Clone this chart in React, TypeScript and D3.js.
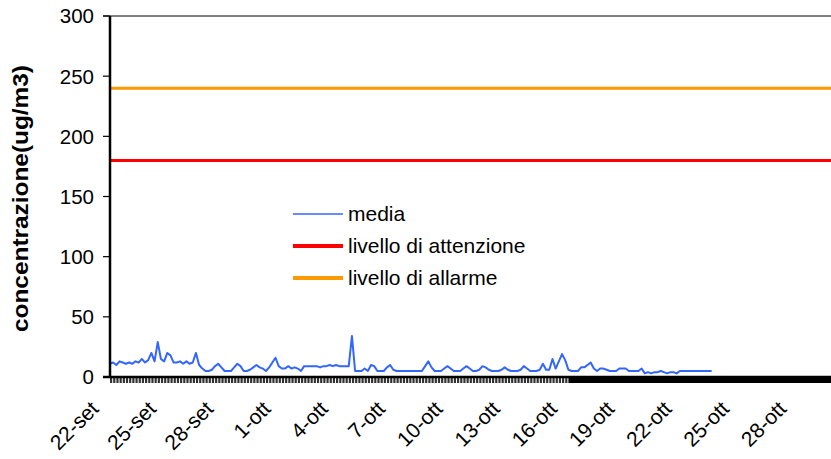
import React from "react";
import * as d3 from "d3";

// ---- data ----
const startDate = new Date(Date.UTC(2000, 8, 22)); // 22-set
const endDate = new Date(Date.UTC(2000, 9, 30)); // axis end
const denseTickFrom = new Date(Date.UTC(2000, 9, 16));
const stepHours = 4;

// media (ug/m3), one value every 4 hours from 22-set 00:00
const media = [
  11, 12, 10, 13, 12, 11, // 22-set
  12, 11, 13, 12, 15, 12, // 23-set
  14, 20, 13, 29, 15, 13, // 24-set
  20, 18, 12, 12, 13, 11, // 25-set
  13, 11, 12, 20, 10, 7, // 26-set
  5, 5, 6, 9, 11, 8, // 27-set
  5, 5, 5, 8, 11, 9, // 28-set
  5, 5, 6, 8, 10, 8, // 29-set
  7, 5, 8, 12, 16, 9, // 30-set
  7, 7, 9, 7, 8, 7, // 1-ott
  5, 9, 9, 9, 9, 9, // 2-ott
  8, 9, 9, 10, 9, 10, // 3-ott
  9, 9, 9, 9, 34, 5, // 4-ott
  5, 5, 7, 5, 10, 9, // 5-ott
  5, 5, 5, 8, 10, 6, // 6-ott
  5, 5, 5, 5, 5, 5, // 7-ott
  5, 5, 5, 9, 13, 8, // 8-ott
  5, 5, 5, 7, 9, 7, // 9-ott
  5, 5, 5, 7, 9, 7, // 10-ott
  5, 5, 6, 9, 8, 6, // 11-ott
  5, 5, 5, 6, 8, 6, // 12-ott
  5, 5, 5, 6, 9, 7, // 13-ott
  5, 5, 5, 6, 11, 6, // 14-ott
  6, 15, 7, 13, 19, 14, // 15-ott
  6, 5, 5, 5, 8, 8, // 16-ott
  10, 12, 7, 5, 7, 7, // 17-ott
  6, 5, 5, 5, 7, 7, // 18-ott
  7, 5, 5, 5, 5, 7, // 19-ott
  3, 4, 3, 4, 4, 5, // 20-ott
  4, 3, 4, 4, 3, 5, // 21-ott
  5, 5, 5, 5, 5, 5, // 22-ott
  5, 5, 5, 5, // 23-ott
];

const livelloAttenzione = 180;
const livelloAllarme = 240;

const yTicks = [0, 50, 100, 150, 200, 250, 300];
const xTickLabels = [
  "22-set", "25-set", "28-set", "1-ott", "4-ott", "7-ott", "10-ott",
  "13-ott", "16-ott", "19-ott", "22-ott", "25-ott", "28-ott",
];
const xTickStepDays = 3;

const legendLabels = ["media", "livello di attenzione", "livello di allarme"];
const colors = { media: "#3366ff", attenzione: "#ff0000", allarme: "#ff9900" };

const FONT = "'Liberation Sans', Arial, sans-serif";

export default function App() {
  const W = 831;
  const H = 459;
  const left = 110;
  const top = 16;
  const bottom = 377;
  const pxPerDay = 19.1;
  const totalDays = (endDate.getTime() - startDate.getTime()) / 86400000;

  const x = d3.scaleUtc().domain([startDate, endDate]).range([left, left + totalDays * pxPerDay]);
  const y = d3.scaleLinear().domain([0, 300]).range([bottom, top]);

  const points = media.map((v, i) => ({
    t: d3.utcHour.offset(startDate, i * stepHours),
    v,
  }));
  const line = d3
    .line<{ t: Date; v: number }>()
    .x((d) => x(d.t))
    .y((d) => y(d.v));

  const tickDates = xTickLabels.map((_, i) => d3.utcDay.offset(startDate, i * xTickStepDays));
  const smallTicks = points.filter((p) => p.t < denseTickFrom).map((p) => p.t);

  const legendX = 293;
  const legendY0 = 214;
  const legendDy = 32;
  const legendColors = [colors.media, colors.attenzione, colors.allarme];
  const legendWidths = [1.6, 4, 4];

  return (
    <svg
      width={W}
      height={H}
      style={{ position: "absolute", left: 0, top: 0, background: "#fff" }}
      fontFamily={FONT}
    >
      <rect x={0} y={0} width={W} height={H} fill="#fff" />
      {/* top border */}
      <line x1={left - 7} x2={W} y1={y(300)} y2={y(300)} stroke="#000" strokeWidth={1} />

      {/* threshold lines */}
      <line x1={left} x2={W} y1={y(livelloAllarme)} y2={y(livelloAllarme)} stroke={colors.allarme} strokeWidth={3} />
      <line x1={left} x2={W} y1={y(livelloAttenzione)} y2={y(livelloAttenzione)} stroke={colors.attenzione} strokeWidth={3} />

      {/* media line */}
      <path d={line(points) || ""} fill="none" stroke={colors.media} strokeWidth={2} strokeLinejoin="round" />

      {/* y axis */}
      <line x1={left} x2={left} y1={top} y2={bottom + 1} stroke="#000" strokeWidth={2.5} />
      {yTicks.map((t) => (
        <g key={t}>
          <line x1={left - 7} x2={left} y1={y(t)} y2={y(t)} stroke="#000" strokeWidth={1.2} />
          <text x={94} y={y(t)} dy="0.36em" textAnchor="end" fontSize={20.5} fill="#000">
            {t}
          </text>
        </g>
      ))}
      <text
        transform={`translate(28, ${(65 + 332) / 2}) rotate(-90)`}
        textAnchor="middle"
        fontSize={22}
        fontWeight="bold"
        fill="#000"
        textLength={267}
        lengthAdjust="spacingAndGlyphs"
      >
        concentrazione(ug/m3)
      </text>

      {/* x axis */}
      {smallTicks.map((d, i) => (
        <rect key={i} x={x(d)} y={bottom} width={2.2} height={6} fill="#333" />
      ))}
      <rect x={x(denseTickFrom)} y={bottom} width={W - x(denseTickFrom)} height={6} fill="#000" />
      <line x1={left - 7} x2={W} y1={bottom} y2={bottom} stroke="#000" strokeWidth={2.5} />
      {tickDates.map((d, i) => (
        <text
          key={i}
          transform={`translate(${x(d) - 10}, ${bottom + 33}) rotate(-45)`}
          textAnchor="end"
          fontSize={21}
          fill="#000"
        >
          {xTickLabels[i]}
        </text>
      ))}

      {/* legend */}
      {legendLabels.map((lab, i) => (
        <g key={lab}>
          <line
            x1={legendX}
            x2={legendX + 50}
            y1={legendY0 + i * legendDy}
            y2={legendY0 + i * legendDy}
            stroke={legendColors[i]}
            strokeWidth={legendWidths[i]}
          />
          <text x={legendX + 55} y={legendY0 + i * legendDy} dy="0.35em" fontSize={21} fill="#000">
            {lab}
          </text>
        </g>
      ))}
    </svg>
  );
}
